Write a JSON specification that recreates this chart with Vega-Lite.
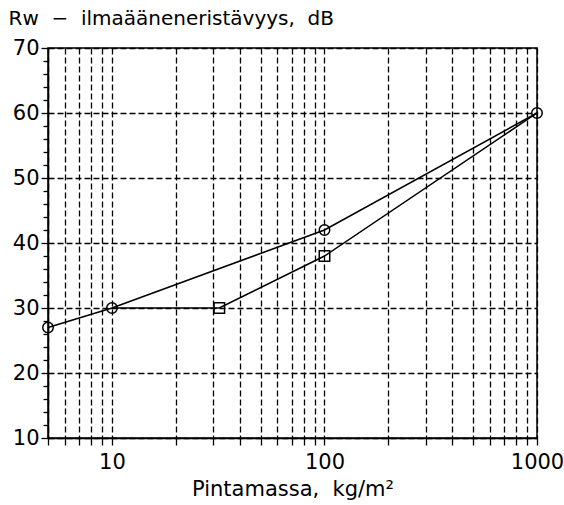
{
  "$schema": "https://vega.github.io/schema/vega-lite/v6.json",
  "width": 489,
  "height": 390,
  "autosize": {"type": "none"},
  "padding": {"left": 48, "top": 48, "right": 27, "bottom": 67},
  "background": "white",
  "config": {
    "view": {"stroke": "black", "strokeWidth": 1.5},
    "font": "DejaVu Sans",
    "axis": {
      "domainColor": "black",
      "domainWidth": 1.5,
      "tickColor": "black",
      "tickWidth": 1.3,
      "gridColor": "black",
      "gridDash": [6, 3],
      "gridWidth": 1.3,
      "labelColor": "black",
      "labelFont": "DejaVu Sans",
      "labelFontSize": 21,
      "titleColor": "black",
      "titleFont": "DejaVu Sans",
      "titleFontWeight": "normal",
      "titleFontSize": 20
    }
  },
  "data": {
    "values": [
      {"mass": 5, "rw": 27, "series": "A", "marker": "circle"},
      {"mass": 10, "rw": 30, "series": "A", "marker": "circle"},
      {"mass": 100, "rw": 42, "series": "A", "marker": "circle"},
      {"mass": 1000, "rw": 60, "series": "A", "marker": "circle"},
      {"mass": 10, "rw": 30, "series": "B", "marker": null},
      {"mass": 32, "rw": 30, "series": "B", "marker": "square"},
      {"mass": 100, "rw": 38, "series": "B", "marker": "square"},
      {"mass": 1000, "rw": 60, "series": "B", "marker": null}
    ]
  },
  "encoding": {
    "x": {
      "field": "mass",
      "type": "quantitative",
      "scale": {"type": "log", "domain": [5, 1000], "nice": false},
      "axis": {
        "values": [5, 6, 7, 8, 9, 10, 20, 30, 40, 50, 60, 70, 80, 90, 100, 200, 300, 400, 500, 600, 700, 800, 900, 1000],
        "format": "d",
        "labelExpr": "indexof([10, 100, 1000], datum.value) >= 0 ? datum.label : ''",
        "labelOverlap": false,
        "labelFlush": false,
        "labelPadding": 6,
        "tickSize": 7,
        "grid": true,
        "title": "Pintamassa,\u00a0\u00a0kg/m²",
        "titleFontSize": 21,
        "titlePadding": 6
      }
    },
    "y": {
      "field": "rw",
      "type": "quantitative",
      "scale": {"domain": [10, 70], "nice": false, "zero": false},
      "axis": {
        "values": [10, 12, 14, 16, 18, 20, 22, 24, 26, 28, 30, 32, 34, 36, 38, 40, 42, 44, 46, 48, 50, 52, 54, 56, 58, 60, 62, 64, 66, 68, 70],
        "labelExpr": "datum.value % 10 == 0 ? datum.label : ''",
        "labelOverlap": false,
        "labelFlush": false,
        "labelPadding": 2,
        "tickSize": {"condition": {"test": "datum.value % 10 == 0", "value": 7}, "value": 5},
        "grid": true,
        "gridOpacity": {"condition": {"test": "datum.value % 10 == 0", "value": 1}, "value": 0},
        "title": "Rw\u00a0\u00a0−\u00a0\u00a0ilmaääneneristävyys,\u00a0\u00a0dB",
        "titleAngle": 0,
        "titleAlign": "left",
        "titleBaseline": "alphabetic",
        "titleX": -40,
        "titleY": -24
      }
    }
  },
  "layer": [
    {
      "mark": {"type": "line", "color": "black", "strokeWidth": 1.5},
      "encoding": {"detail": {"field": "series"}}
    },
    {
      "transform": [{"filter": "datum.marker != null"}],
      "mark": {"type": "point", "filled": false, "color": "black", "size": 110, "strokeWidth": 1.5, "opacity": 1},
      "encoding": {
        "shape": {
          "field": "marker",
          "type": "nominal",
          "scale": {"domain": ["circle", "square"], "range": ["circle", "square"]},
          "legend": null
        }
      }
    }
  ]
}
